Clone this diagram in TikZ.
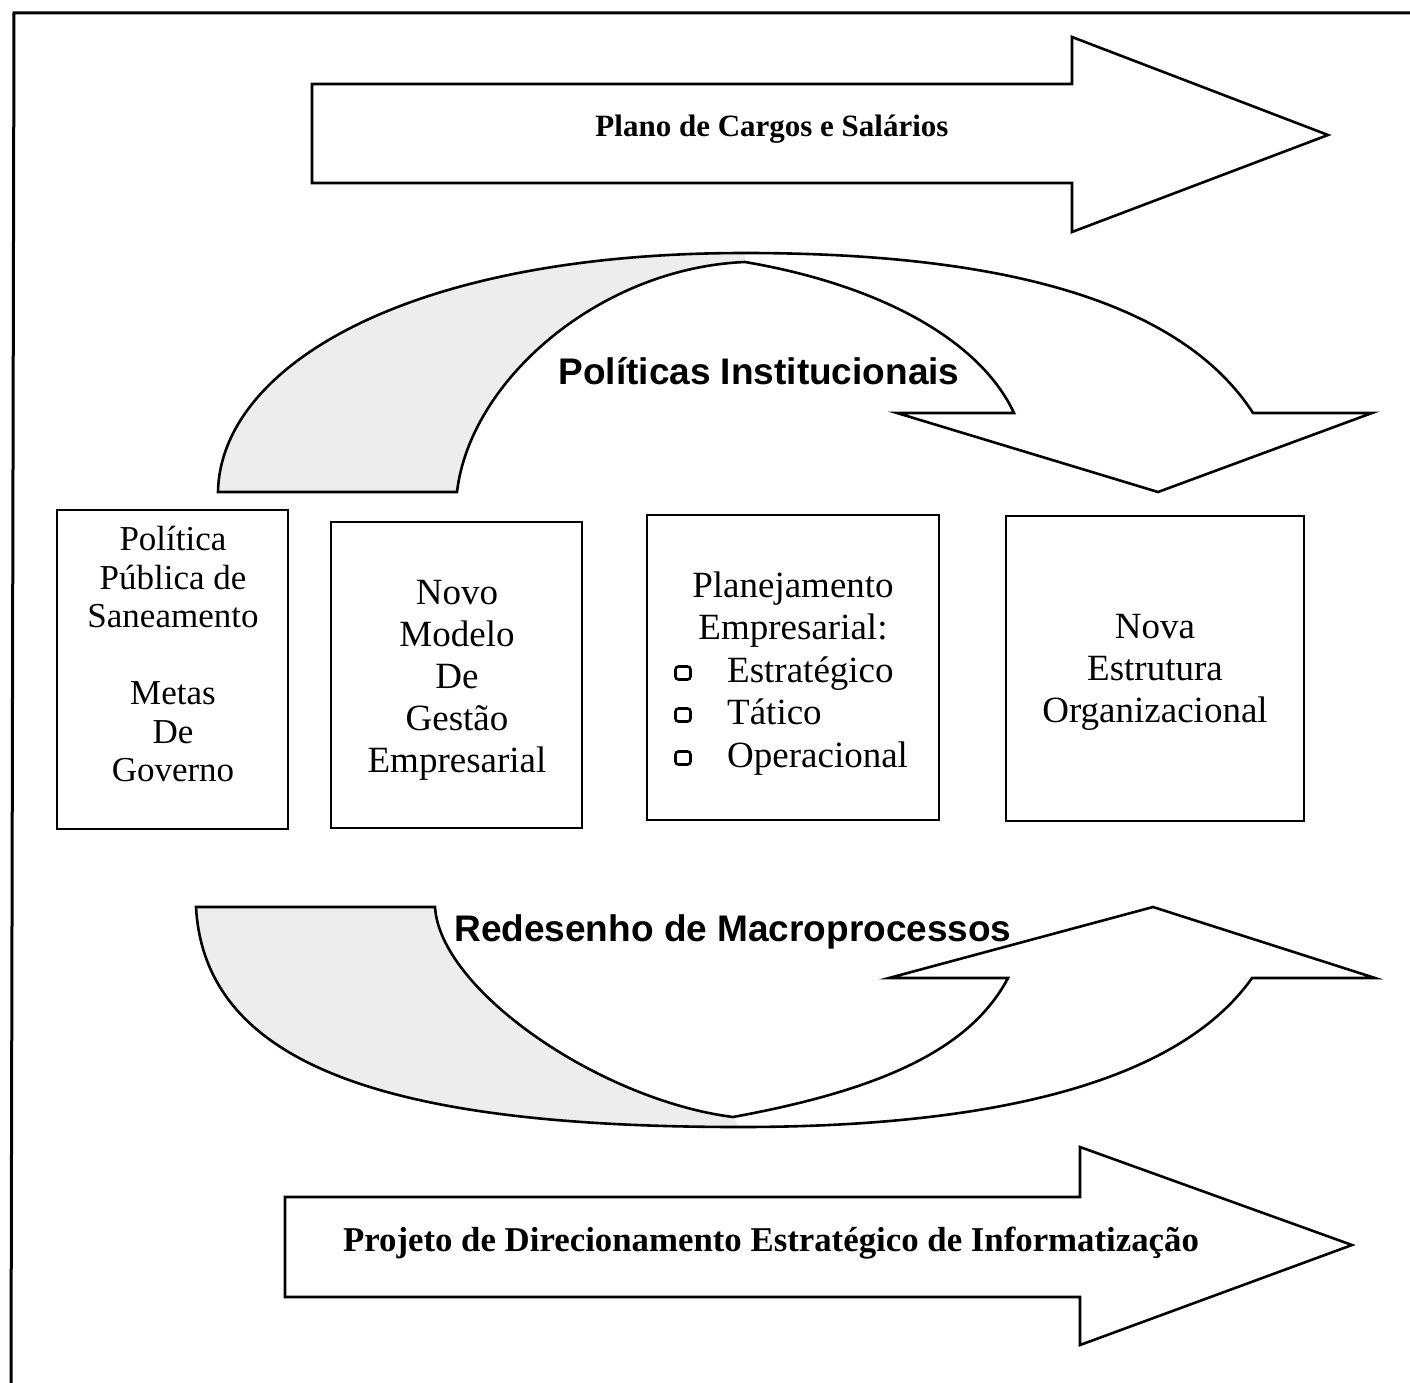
\documentclass[tikz,border=0pt]{standalone}
\usepackage{fontspec}
\setmainfont{Liberation Serif}
\newfontfamily\arialfont{Liberation Sans}
\begin{document}
\begin{tikzpicture}[x=1pt,y=-1pt,line join=miter,
  outline/.style={draw=black,line width=2.6pt},
  backfill/.style={fill=black!7},
  box/.style={draw=black,line width=2pt,inner sep=0pt,fill=white},
  boxtext/.style={align=center,inner sep=0pt,font=\fontsize{37}{42}\selectfont},
  bullet/.style={draw=black,line width=2.6pt,rounded corners=3pt,minimum width=15pt,minimum height=13pt,inner sep=0pt},
  itemtext/.style={anchor=base west,inner sep=0pt,font=\fontsize{37}{42}\selectfont},
  arrowlabel/.style={inner sep=0pt,font=\bfseries\fontsize{31}{36}\selectfont},
  curvelabel/.style={inner sep=0pt,font=\arialfont\bfseries\fontsize{37}{42}\selectfont}]
\useasboundingbox (0,0) rectangle (1410,1383);
\fill[white] (0,0) rectangle (1410,1383);
% frame
\draw[line width=3pt] (11,1383) -- (14,13) -- (1410,13);
% top straight arrow
\draw[outline] (312,84) -- (1072,84) -- (1072,37) -- (1328,135) -- (1072,232) -- (1072,183) -- (312,183) -- cycle;
\node[arrowlabel] (plano) at (772,129) {Plano de Cargos e Salários};
% bottom straight arrow
\draw[outline] (285,1197) -- (1080,1197) -- (1080,1147) -- (1352,1245) -- (1080,1345) -- (1080,1297) -- (285,1297) -- cycle;
\node[arrowlabel,font=\bfseries\fontsize{34.8}{38}\selectfont] (projeto) at (771,1243) {Projeto de Direcionamento Estratégico de Informatização};
% upper curved arrow
\fill[backfill] (218,492) .. controls (220,370) and (400,253) .. (745,253) -- (745,262) .. controls (600,268) and (470,380) .. (457,492) -- cycle;
\fill[white] (745,262) .. controls (880,285) and (980,340) .. (1014,413) -- (897,413) -- (1158,492) -- (1372,413) -- (1253,413) .. controls (1180,300) and (1000,253) .. (745,253) -- cycle;
\draw[outline] (218,492) .. controls (220,370) and (400,253) .. (745,253)
  .. controls (1000,253) and (1180,300) .. (1253,413) -- (1372,413) -- (1158,492) -- (897,413) -- (1014,413)
  .. controls (980,340) and (880,285) .. (745,262)
  .. controls (600,268) and (470,380) .. (457,492) -- cycle;
\node[curvelabel] (politicas) at (759,371) {Políticas Institucionais};
% lower curved arrow
\fill[backfill] (196,907) .. controls (205,1070) and (400,1127) .. (740,1127) -- (733,1117) .. controls (600,1100) and (440,990) .. (435,907) -- cycle;
\fill[white] (733,1117) .. controls (880,1090) and (970,1050) .. (1008,978) -- (889,978) -- (1153,907) -- (1375,978) -- (1252,978) .. controls (1180,1080) and (1000,1127) .. (740,1127) -- cycle;
\node[curvelabel] (redesenho) at (733,932) {Redesenho de Macroprocessos};
\draw[outline] (196,907) .. controls (205,1070) and (400,1127) .. (740,1127)
  .. controls (1000,1127) and (1180,1080) .. (1252,978) -- (1375,978) -- (1153,907) -- (889,978) -- (1008,978)
  .. controls (970,1050) and (880,1090) .. (733,1117)
  .. controls (600,1100) and (440,990) .. (435,907) -- cycle;
% boxes
\node[box,minimum width=231pt,minimum height=319pt] (b1) at (172.5,669.5) {};
\node[box,minimum width=251pt,minimum height=306pt] (b2) at (456.5,675) {};
\node[box,minimum width=292pt,minimum height=305pt] (b3) at (793,667.5) {};
\node[box,minimum width=298pt,minimum height=305pt] (b4) at (1155,668.5) {};
\node[boxtext,font=\fontsize{35}{38.5}\selectfont] (t1) at (173,654) {Política\\Pública de\\Saneamento\\[38.5pt]Metas\\De\\Governo};
\node[boxtext] (t2) at (457,680) {Novo\\Modelo\\De\\Gestão\\Empresarial};
\node[boxtext] (t3) at (793,610) {Planejamento\\Empresarial:};
\node[itemtext] (i1) at (727,682) {Estratégico};
\node[itemtext] (i2) at (727,724) {Tático};
\node[itemtext] (i3) at (727,767) {Operacional};
\node[bullet] (q1) at (683,673) {};
\node[bullet] (q2) at (683,715) {};
\node[bullet] (q3) at (683,758) {};
\node[boxtext] (t4) at (1155,672) {Nova\\Estrutura\\Organizacional};
\end{tikzpicture}
\end{document}
